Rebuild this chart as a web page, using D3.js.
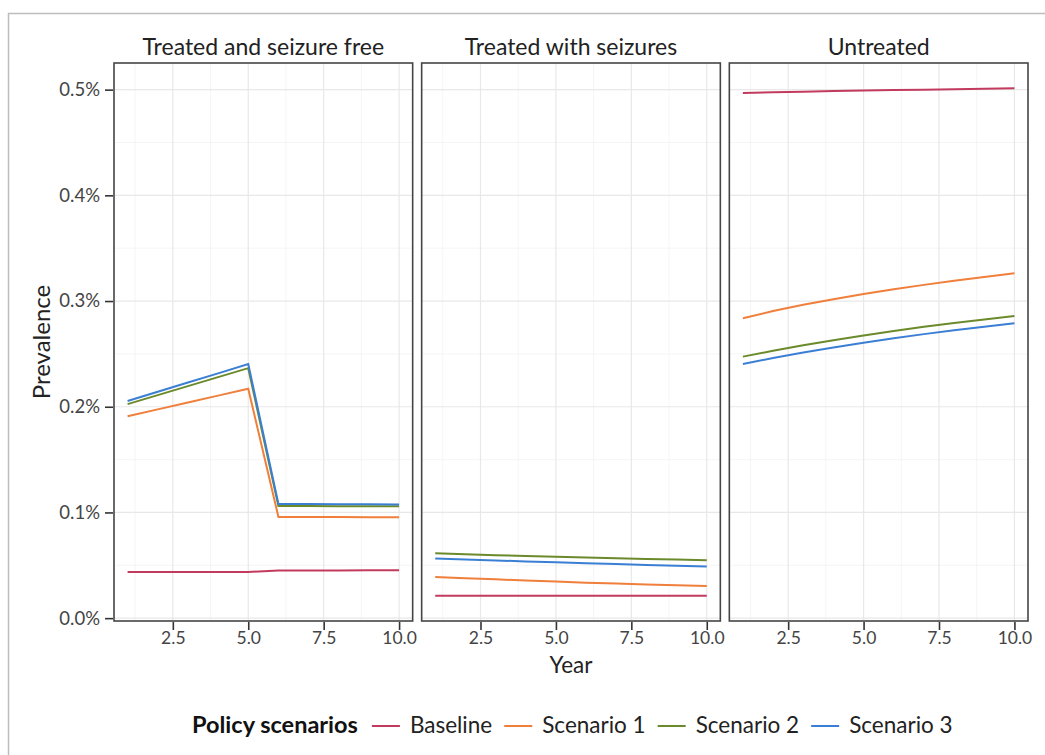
<!DOCTYPE html>
<html>
<head>
<meta charset="utf-8">
<script src="https://cdn.jsdelivr.net/npm/d3@7"></script>
<style>
  body { margin: 0; background: #fff; }
  svg { display: block; font-family: Lato, "Open Sans", sans-serif; }
</style>
</head>
<body>
<svg id="viz"></svg>
<script>
var width = 1045;
var height = 755;

// Data (prevalence in %)
var years = [1, 2, 3, 4, 5, 6, 7, 8, 9, 10];
var panels = ["Treated and seizure free", "Treated with seizures", "Untreated"];
var scenarios = ["Baseline", "Scenario 1", "Scenario 2", "Scenario 3"];
var colors = ["#c23b5e", "#ef7f3b", "#6b8a2c", "#3b7fd4"];

var tsfBaseline = [0.0437, 0.0437, 0.0437, 0.0437, 0.0437, 0.0450, 0.0451, 0.0451, 0.0452, 0.0453];
var tsfS1 = [0.191, 0.1975, 0.204, 0.2105, 0.217, 0.0958, 0.0957, 0.0956, 0.0955, 0.0954];
var tsfS2 = [0.2025, 0.211, 0.2195, 0.228, 0.2365, 0.1060, 0.1060, 0.1059, 0.1059, 0.1058];
var tsfS3 = [0.2055, 0.2142, 0.2229, 0.2316, 0.2403, 0.1080, 0.1079, 0.1078, 0.1077, 0.1076];

var twsBaseline = [0.0213, 0.0213, 0.0213, 0.0213, 0.0213, 0.0213, 0.0213, 0.0213, 0.0213, 0.0213];
var twsS1 = [0.0390, 0.0378, 0.0367, 0.0356, 0.0346, 0.0336, 0.0327, 0.0319, 0.0311, 0.0304];
var twsS2 = [0.0613, 0.0604, 0.0595, 0.0588, 0.0580, 0.0573, 0.0566, 0.0560, 0.0554, 0.0548];
var twsS3 = [0.0565, 0.0555, 0.0546, 0.0537, 0.0528, 0.0520, 0.0512, 0.0504, 0.0496, 0.0489];

var untBaseline = [0.4968, 0.4975, 0.4981, 0.4986, 0.4991, 0.4996, 0.5000, 0.5004, 0.5008, 0.5012];
var untS1 = [0.2838, 0.2905, 0.2964, 0.3017, 0.3066, 0.3111, 0.3153, 0.3192, 0.3228, 0.3262];
var untS2 = [0.2474, 0.2530, 0.2582, 0.2630, 0.2675, 0.2717, 0.2756, 0.2792, 0.2826, 0.2858];
var untS3 = [0.2405, 0.2461, 0.2513, 0.2561, 0.2606, 0.2648, 0.2687, 0.2723, 0.2757, 0.2789];

var panelData = [
  [tsfBaseline, tsfS1, tsfS2, tsfS3],
  [twsBaseline, twsS1, twsS2, twsS3],
  [untBaseline, untS1, untS2, untS3]
];

var xTicks = [2.5, 5.0, 7.5, 10.0];
var xMinor = [1.25, 3.75, 6.25, 8.75];
var yTicks = [0, 0.1, 0.2, 0.3, 0.4, 0.5];
var yMinor = [0.05, 0.15, 0.25, 0.35, 0.45];

// Layout
var plotLeft = 114, plotRight = 1028, plotTop = 63, plotBottom = 621;
var gap = 9;
var panelW = (plotRight - plotLeft - 2 * gap) / 3;

var svg = d3.select("#viz")
  .attr("width", width)
  .attr("height", height);

// outer frame (top + left only)
svg.append("path")
  .attr("d", "M8.5," + height + "V13.5H" + width)
  .attr("fill", "none")
  .attr("stroke", "#bdbdbd")
  .attr("stroke-width", 1.5);

// scales (ggplot style 5% expansion)
var allVals = [].concat.apply([], panelData.map(function(p) { return [].concat.apply([], p); }));
var yExt = d3.extent(allVals);
var yPad = (yExt[1] - yExt[0]) * 0.05;
var y = d3.scaleLinear()
  .domain([yExt[0] - yPad, yExt[1] + yPad])
  .range([plotBottom, plotTop]);

var xPad = (d3.max(years) - d3.min(years)) * 0.05;
var xDomain = [d3.min(years) - xPad, d3.max(years) + xPad];

var line = function(x) {
  return d3.line()
    .x(function(d, i) { return x(years[i]); })
    .y(function(d) { return y(d); });
};

panels.forEach(function(name, pi) {
  var x0 = plotLeft + pi * (panelW + gap);
  var x = d3.scaleLinear().domain(xDomain).range([x0, x0 + panelW]);
  var g = svg.append("g");

  // grid
  g.selectAll(".ymin").data(yMinor).enter().append("line")
    .attr("x1", x0).attr("x2", x0 + panelW)
    .attr("y1", y).attr("y2", y)
    .attr("stroke", "#f2f2f2").attr("stroke-width", 0.8);
  g.selectAll(".xmin").data(xMinor).enter().append("line")
    .attr("y1", plotTop).attr("y2", plotBottom)
    .attr("x1", x).attr("x2", x)
    .attr("stroke", "#f2f2f2").attr("stroke-width", 0.8);
  g.selectAll(".ymaj").data(yTicks).enter().append("line")
    .attr("x1", x0).attr("x2", x0 + panelW)
    .attr("y1", y).attr("y2", y)
    .attr("stroke", "#e8e8e8").attr("stroke-width", 1.2);
  g.selectAll(".xmaj").data(xTicks).enter().append("line")
    .attr("y1", plotTop).attr("y2", plotBottom)
    .attr("x1", x).attr("x2", x)
    .attr("stroke", "#e8e8e8").attr("stroke-width", 1.2);

  // series
  panelData[pi].forEach(function(vals, si) {
    g.append("path")
      .attr("d", line(x)(vals))
      .attr("fill", "none")
      .attr("stroke", colors[si])
      .attr("stroke-width", 2);
  });

  // border
  g.append("rect")
    .attr("x", x0).attr("y", plotTop)
    .attr("width", panelW).attr("height", plotBottom - plotTop)
    .attr("fill", "none")
    .attr("stroke", "#454545")
    .attr("stroke-width", 1.6);

  // strip title
  g.append("text")
    .attr("x", x0 + panelW / 2)
    .attr("y", 55)
    .attr("text-anchor", "middle")
    .attr("font-size", 23)
    .attr("fill", "#222")
    .text(name);

  // x axis
  var xAxis = d3.axisBottom(x).tickValues(xTicks).tickFormat(d3.format(".1f"))
    .tickSizeOuter(0).tickSize(8).tickPadding(2);
  var ax = g.append("g")
    .attr("transform", "translate(0," + (plotBottom + 1) + ")")
    .call(xAxis);
  ax.select(".domain").remove();
  ax.selectAll(".tick line").attr("stroke", "#333").attr("stroke-width", 1.6);
  ax.selectAll(".tick text")
    .attr("font-size", 17.5).attr("fill", "#444")
    .attr("font-family", "Lato, sans-serif");
});

// y axis
var yAxis = d3.axisLeft(y).tickValues(yTicks)
  .tickFormat(function(d) { return d.toFixed(1) + "%"; })
  .tickSizeOuter(0).tickSize(8).tickPadding(5);
var yax = svg.append("g")
  .attr("transform", "translate(" + (plotLeft - 1) + ",0)")
  .call(yAxis);
yax.select(".domain").remove();
yax.selectAll(".tick line").attr("stroke", "#333").attr("stroke-width", 1.6);
yax.selectAll(".tick text")
  .attr("font-size", 18.5).attr("fill", "#444")
  .attr("font-family", "Lato, sans-serif");

// axis titles
svg.append("text")
  .attr("x", plotLeft + 1.5 * panelW + gap)
  .attr("y", 673)
  .attr("text-anchor", "middle")
  .attr("font-size", 22.5)
  .attr("fill", "#222")
  .text("Year");

svg.append("text")
  .attr("transform", "translate(50," + ((plotTop + plotBottom) / 2) + ") rotate(-90)")
  .attr("text-anchor", "middle")
  .attr("font-size", 24)
  .attr("fill", "#222")
  .text("Prevalence");

// legend
var legend = svg.append("g").attr("transform", "translate(192,733)");
var legTitle = legend.append("text")
  .attr("font-size", 23.5)
  .attr("font-weight", "bold")
  .attr("fill", "#111")
  .text("Policy scenarios");

var lx = legTitle.node().getComputedTextLength() + 14;
scenarios.forEach(function(s, i) {
  legend.append("line")
    .attr("x1", lx).attr("x2", lx + 28)
    .attr("y1", -7).attr("y2", -7)
    .attr("stroke", colors[i]).attr("stroke-width", 2);
  var t = legend.append("text")
    .attr("x", lx + 38)
    .attr("font-size", 22.5)
    .attr("fill", "#222")
    .text(s);
  lx += 38 + t.node().getComputedTextLength() + 12;
});
</script>
</body>
</html>
